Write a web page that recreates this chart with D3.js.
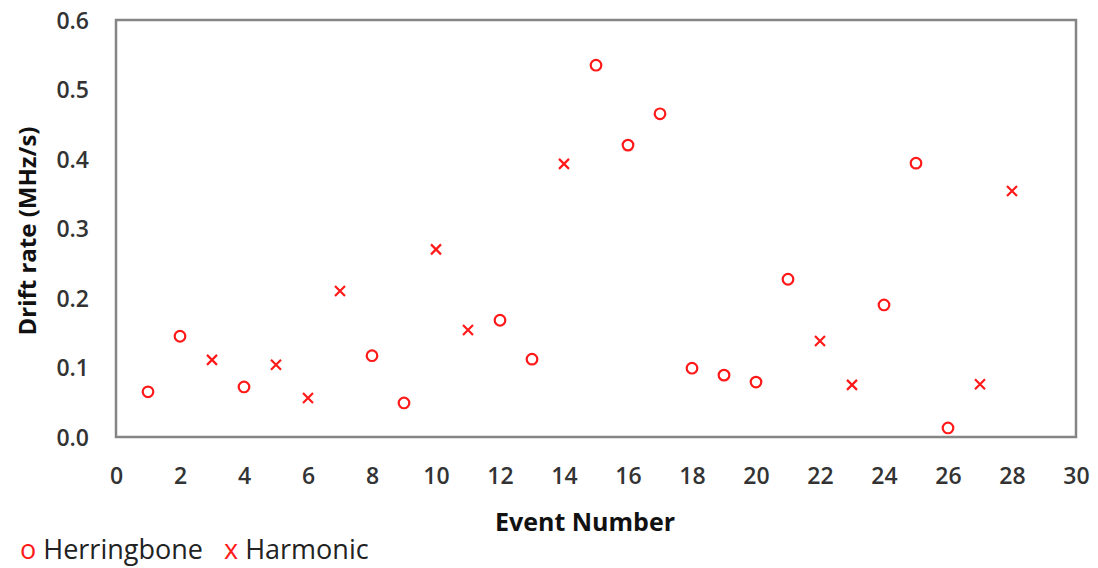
<!DOCTYPE html>
<html><head><meta charset="utf-8">
<script src="https://cdn.jsdelivr.net/npm/d3@7"></script>
<style>
html,body{margin:0;padding:0;background:#fff;}
svg{display:block;}
</style></head>
<body>
<svg id="chart" width="1098" height="568"></svg>
<script>
const herringboneX = [1,2,4,8,9,12,13,15,16,17,18,19,20,21,24,25,26];
const herringboneY = [0.065,0.145,0.072,0.117,0.049,0.168,0.112,0.535,0.420,0.465,0.099,0.089,0.079,0.227,0.190,0.394,0.013];
const harmonicX = [3,5,6,7,10,11,14,22,23,27,28];
const harmonicY = [0.111,0.104,0.056,0.210,0.270,0.154,0.393,0.138,0.075,0.076,0.354];
const xTicks = [0,2,4,6,8,10,12,14,16,18,20,22,24,26,28,30];
const yTicks = [0,0.1,0.2,0.3,0.4,0.5,0.6];

const svg = d3.select("#chart");
const pL = 116, pR = 1076, pT = 20, pB = 437;
const x = d3.scaleLinear().domain([0,30]).range([pL,pR]);
const y = d3.scaleLinear().domain([0,0.6]).range([pB,pT]);
const red = "#ff1a1a";
const font = "'Open Sans', 'DejaVu Sans', sans-serif";

// frame
svg.append("rect").attr("x",pL).attr("y",pT).attr("width",pR-pL).attr("height",pB-pT)
  .attr("fill","none").attr("stroke","#858585").attr("stroke-width",2.5);

// x axis
const gx = svg.append("g").attr("transform",`translate(0,${pB})`)
  .call(d3.axisBottom(x).tickValues(xTicks).tickSize(0).tickPadding(0).tickFormat(d3.format("d")));
gx.select(".domain").remove();
gx.selectAll("text").attr("y",47).attr("dy",0).attr("font-family",font).attr("font-size",23)
  .attr("font-weight",600).attr("fill","#333");

// y axis
const gy = svg.append("g").attr("transform",`translate(${pL},0)`)
  .call(d3.axisLeft(y).tickValues(yTicks).tickSize(0).tickPadding(0).tickFormat(d3.format(".1f")));
gy.select(".domain").remove();
gy.selectAll("text").attr("x",-27).attr("dy","0.35em").attr("font-family",font).attr("font-size",23)
  .attr("font-weight",600).attr("fill","#333");

// axis titles
svg.append("text").attr("x",585).attr("y",531).attr("text-anchor","middle")
  .attr("font-family",font).attr("font-size",25).attr("font-weight",700).attr("fill","#111")
  .text("Event Number");
svg.append("text").attr("transform","translate(36,231) rotate(-90)").attr("text-anchor","middle")
  .attr("font-family",font).attr("font-size",24).attr("font-weight",700).attr("fill","#111")
  .text("Drift rate (MHz/s)");

// herringbone circles
svg.append("g").selectAll("circle").data(herringboneX.map((d,i)=>[d,herringboneY[i]])).join("circle")
  .attr("cx",d=>x(d[0])).attr("cy",d=>y(d[1])).attr("r",5.3)
  .attr("fill","none").attr("stroke",red).attr("stroke-width",2.2);

// harmonic crosses
const s = 5;
svg.append("g").selectAll("path").data(harmonicX.map((d,i)=>[d,harmonicY[i]])).join("path")
  .attr("d",d=>{const cx=x(d[0]), cy=y(d[1]);
    return `M${cx-s},${cy-s}L${cx+s},${cy+s}M${cx-s},${cy+s}L${cx+s},${cy-s}`;})
  .attr("stroke",red).attr("stroke-width",2.2).attr("fill","none");

// legend
const lg = svg.append("text").attr("x",20).attr("y",559).attr("font-family",font).attr("font-size",27).attr("fill","#222");
lg.append("tspan").attr("fill",red).text("o");
lg.append("tspan").attr("dx",7).text("Herringbone");
lg.append("tspan").attr("x",224).attr("fill",red).text("x");
lg.append("tspan").attr("dx",7).text("Harmonic");
</script>
</body></html>
